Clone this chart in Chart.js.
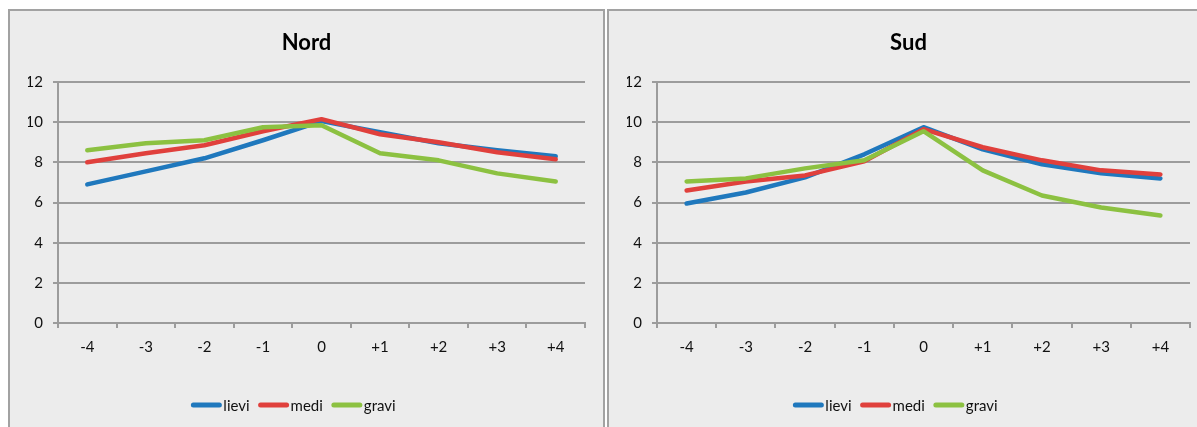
<!DOCTYPE html>
<html>
<head>
<meta charset="utf-8">
<script src="https://cdn.jsdelivr.net/npm/chart.js@4.4.1/dist/chart.umd.min.js"></script>
<style>
  html, body { margin: 0; padding: 0; background: #ffffff; width: 1197px; height: 427px; overflow: hidden; }
  .panel { position: absolute; top: 9px; height: 440px; box-sizing: border-box; border: 2px solid #a2a2a2; background: #ececec; }
  #p1 { left: 8px; width: 597px; }
  #p2 { left: 607px; width: 600px; }
  .panel canvas { position: absolute; left: 0; top: 0; }
</style>
</head>
<body>
<div class="panel" id="p1"><canvas id="nord" width="593" height="416"></canvas></div>
<div class="panel" id="p2"><canvas id="sud" width="596" height="416"></canvas></div>
<script>
// Periods around the reference year
const periods = ['-4', '-3', '-2', '-1', '0', '+1', '+2', '+3', '+4'];
const yTicks = [0, 2, 4, 6, 8, 10, 12];
const seriesNames = ['lievi', 'medi', 'gravi'];
const seriesColors = ['#1f78bd', '#e0403c', '#8cc141'];

// Nord
const nordLievi = [6.9, 7.55, 8.2, 9.1, 10.05, 9.5, 8.95, 8.6, 8.3];
const nordMedi  = [8.0, 8.45, 8.85, 9.55, 10.15, 9.4, 9.0, 8.5, 8.15];
const nordGravi = [8.6, 8.95, 9.1, 9.75, 9.85, 8.45, 8.1, 7.45, 7.05];

// Sud
const sudLievi = [5.95, 6.5, 7.25, 8.4, 9.75, 8.65, 7.9, 7.45, 7.2];
const sudMedi  = [6.6, 7.05, 7.35, 8.05, 9.65, 8.75, 8.1, 7.6, 7.4];
const sudGravi = [7.05, 7.2, 7.7, 8.1, 9.55, 7.6, 6.35, 5.75, 5.35];

const FONT = 'Lato, "DejaVu Sans Condensed", sans-serif';
const GRID = '#9c9c9c';
const TEXT = '#111111';

// Legend drawn as short thick line swatches followed by the series name
const lineLegend = {
  id: 'lineLegend',
  afterDraw(chart, args, opts) {
    const ctx = chart.ctx;
    const sets = chart.data.datasets;
    ctx.save();
    ctx.font = opts.font;
    const widths = sets.map(d => ctx.measureText(d.label).width);
    const total = widths.reduce((a, w) => a + opts.swatch + opts.gap + w, 0) + opts.spacing * (sets.length - 1);
    const area = chart.chartArea;
    let x = (area.left + area.right) / 2 + opts.shift - total / 2;
    const y = area.bottom + opts.offsetY;
    sets.forEach((d, i) => {
      ctx.strokeStyle = d.borderColor;
      ctx.lineWidth = opts.lineWidth;
      ctx.lineCap = 'round';
      ctx.beginPath();
      ctx.moveTo(x + 2, y);
      ctx.lineTo(x + opts.swatch - 2, y);
      ctx.stroke();
      x += opts.swatch + opts.gap;
      ctx.fillStyle = opts.color;
      ctx.textBaseline = 'middle';
      ctx.textAlign = 'left';
      ctx.fillText(d.label, x, y + 1);
      x += widths[i] + opts.spacing;
    });
    ctx.restore();
  }
};

function makeChart(id, title, values, leftPad, rightPad) {
  const datasets = values.map((v, i) => ({
    label: seriesNames[i],
    data: v,
    borderColor: seriesColors[i],
    backgroundColor: seriesColors[i],
    borderWidth: 4.5,
    pointRadius: 0,
    tension: 0,
    borderJoinStyle: 'round',
    borderCapStyle: 'round',
    order: values.length - i
  }));
  return new Chart(document.getElementById(id), {
    type: 'line',
    data: { labels: periods, datasets },
    plugins: [lineLegend],
    options: {
      responsive: false,
      animation: false,
      layout: { padding: { left: leftPad, right: rightPad, top: 0, bottom: 64 } },
      plugins: {
        legend: { display: false },
        tooltip: { enabled: false },
        title: {
          display: true,
          text: title,
          color: '#000000',
          font: { family: FONT, size: 22, weight: 'bold' },
          padding: { top: 18.8, bottom: 25.8 }
        },
        lineLegend: {
          font: '15px ' + FONT,
          color: TEXT,
          swatch: 30, gap: 2, spacing: 9, lineWidth: 5,
          shift: -28, offsetY: 82
        }
      },
      scales: {
        x: {
          type: 'category',
          offset: true,
          afterFit: s => { s.height = 40; },
          grid: { offset: true, drawOnChartArea: false, drawTicks: true, tickLength: 5, color: GRID, lineWidth: 2 },
          border: { display: true, color: GRID, width: 2 },
          ticks: { color: TEXT, padding: 10, font: { family: FONT, size: 15 }, maxRotation: 0 }
        },
        y: {
          min: 0,
          max: 12,
          afterFit: s => { s.width = 48 - leftPad; },
          afterBuildTicks: s => { s.ticks = yTicks.map(v => ({ value: v })); },
          grid: { drawTicks: true, tickLength: 5, color: GRID, lineWidth: 2 },
          border: { display: true, color: GRID, width: 2 },
          ticks: { color: TEXT, padding: 10, font: { family: FONT, size: 15 } }
        }
      }
    }
  });
}

makeChart('nord', 'Nord', [nordLievi, nordMedi, nordGravi], 18, 18);
makeChart('sud', 'Sud', [sudLievi, sudMedi, sudGravi], 18, 15);
</script>
</body>
</html>
